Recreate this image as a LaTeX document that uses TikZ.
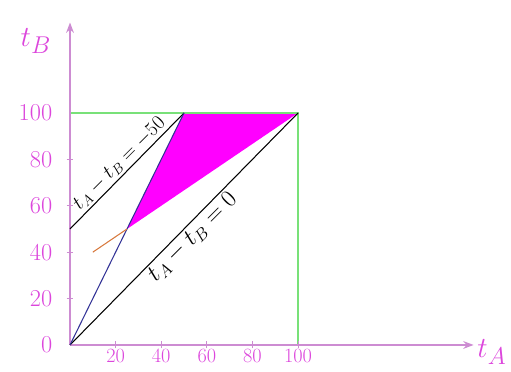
\documentclass[tikz,border=0pt]{standalone}
\usepackage{amsmath, amssymb}
\usepackage{tikz}
\usetikzlibrary{arrows.meta, positioning}

\definecolor{axiscol}{RGB}{205,140,210}
\definecolor{labelcol}{RGB}{220,70,220}
\definecolor{boxgreen}{RGB}{120,225,120}
\definecolor{bluecol}{RGB}{50,50,150}
\definecolor{orangecol}{RGB}{215,120,60}
\definecolor{regioncol}{RGB}{255,0,255}

\begin{document}
\begin{tikzpicture}[x=0.0684cm, y=0.0696cm, >=Stealth,
  axis/.style={->, line width=1.3pt, draw=axiscol},
  tick/.style={line width=0.6pt, draw=axiscol},
  lbl/.style={text=labelcol, font=\Huge},
  box/.style={draw=boxgreen, line width=1.3pt},
  linelbl/.style={rotate=45, font=\LARGE, inner sep=2pt}]
\useasboundingbox (-30.7,-11.64) rectangle (193.4,148.7);

% Key points
\coordinate (O) at (0,0);
\coordinate (P) at (100,100);
\coordinate (Q) at (0,50);
\coordinate (R) at (50,100);
\coordinate (K) at (25,50);
\coordinate (S) at (10,40);
\coordinate (Y100) at (0,100);
\coordinate (X100) at (100,0);
\coordinate (Xend) at (177,0);
\coordinate (Yend) at (0,139);

% Shaded region
\fill[regioncol] (K) -- (R) -- (P) -- cycle;

% Square bound
\draw[box] (Y100) -- (P) -- (X100);

% Axes
\draw[axis] (O) -- (Xend);
\draw[axis] (O) -- (Yend);
\node[lbl] (tA) at (185,-3) {$t_A$};
\node[lbl] (tB) at (-15,131) {$t_B$};

% Ticks and tick labels
\foreach \v in {20,40,...,100} {
  \draw[tick] (\v,-1.5) -- (\v,1.5);
  \node[lbl, below, font=\LARGE, inner sep=1pt] at (\v,-1) {\v};
}
\foreach \v in {20,40,...,80} {
  \draw[tick] (-1.5,\v) -- (1.5,\v);
}
\foreach \v in {0,20,...,100} {
  \node[lbl, left, font=\huge] at (-6,\v) {\v};
}

% Lines
\draw[line width=0.9pt] (O) -- (P);
\draw[line width=0.9pt] (Q) -- (R);
\draw[bluecol, line width=0.9pt] (O) -- (R);
\draw[orangecol, line width=0.9pt] (S) -- (K);

% Line labels
\node[linelbl, anchor=south] (lab50) at (25,75) {$t_A - t_B = -50$};
\node[linelbl, anchor=north, font=\huge] (lab0) at (50,50) {$t_A - t_B = 0$};

\end{tikzpicture}
\end{document}
